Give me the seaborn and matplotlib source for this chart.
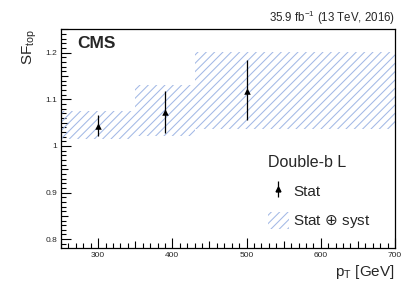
import matplotlib
matplotlib.use("Agg")
import matplotlib.pyplot as plt
import seaborn as sns
import numpy as np
import pandas as pd
from matplotlib.patches import Patch
from matplotlib.lines import Line2D
from matplotlib.ticker import MultipleLocator
from matplotlib.legend_handler import HandlerTuple

# data
bin_lo = [250, 350, 430]
bin_hi = [350, 430, 700]
band_lo = [1.014, 1.021, 1.036]
band_hi = [1.075, 1.131, 1.202]
pt = [300, 390, 500]
sf = [1.0435, 1.0735, 1.119]
stat_up = [1.066, 1.118, 1.184]
stat_dn = [1.021, 1.0285, 1.056]

HATCH_C = '#a3b9e6'

sns.set_theme(style="ticks")
plt.rcParams['font.family'] = ['Liberation Sans', 'DejaVu Sans']
plt.rcParams['hatch.linewidth'] = 0.75

fig = plt.figure(figsize=(4.07, 2.93), dpi=100)
ax = fig.add_axes([0.150, 0.1536, 0.8205, 0.7474])

df = pd.DataFrame({"pt": pt, "sf": sf})
widths = np.array(bin_hi) - np.array(bin_lo)
heights = np.array(band_hi) - np.array(band_lo)
ax.bar(bin_lo, heights, width=widths, bottom=band_lo, align='edge',
       facecolor='none', edgecolor=HATCH_C, hatch='////', linewidth=0)

yerr = [np.array(sf) - np.array(stat_dn), np.array(stat_up) - np.array(sf)]
eb = ax.errorbar(pt, sf, yerr=yerr, fmt='none', ecolor='black', elinewidth=0.9, capsize=0)
sns.scatterplot(data=df, x="pt", y="sf", marker='^', color='black', s=22,
                edgecolor='black', linewidth=0, ax=ax, zorder=5)

ax.set_xlim(250, 700)
ax.set_ylim(0.781, 1.251)
ax.xaxis.set_major_locator(MultipleLocator(100))
ax.xaxis.set_minor_locator(MultipleLocator(10))
ax.set_yticks([0.8, 0.9, 1.0, 1.1, 1.2])
ax.set_yticklabels(['0.8', '0.9', '1', '1.1', '1.2'])
ax.yaxis.set_minor_locator(MultipleLocator(0.01))
ax.tick_params(which='both', direction='in', top=False, right=False, labelsize=6, pad=3,
               color='black', width=0.8)
ax.tick_params(which='major', length=7)
ax.tick_params(which='minor', length=3.5)
for sp in ax.spines.values():
    sp.set_linewidth(0.9)
    sp.set_color('black')

# medium ticks (ROOT-style secondary divisions)
fig.canvas.draw()
for t, v in zip(ax.xaxis.get_minor_ticks(), ax.xaxis.get_minorticklocs()):
    if round(v) % 100 == 50:
        t.tick1line.set_markersize(5.2)
for t, v in zip(ax.yaxis.get_minor_ticks(), ax.yaxis.get_minorticklocs()):
    if round(v * 100) % 10 == 5:
        t.tick1line.set_markersize(5.2)

ax.set_xlabel(r'p$_{\mathregular{T}}$ [GeV]', fontsize=11, loc='right', labelpad=3)
ax.set_ylabel(r'SF$_{\mathregular{top}}$', fontsize=11, loc='top', labelpad=4)

ax.text(0.05, 0.935, 'CMS', transform=ax.transAxes, fontsize=12.5, fontweight='bold',
        ha='left', va='center')
ax.text(1.0, 1.011, r'35.9 fb$^{\mathregular{-1}}$ (13 TeV, 2016)', transform=ax.transAxes,
        fontsize=8.3, ha='right', va='bottom')

h_mark = Line2D([], [], color='black', marker='^', markersize=3.5, linestyle='none')
h_syst = Patch(facecolor='none', edgecolor=HATCH_C, hatch='////', linewidth=0)
leg = ax.legend([(eb, h_mark), h_syst], ['Stat', r'Stat $\oplus$ syst'], title='Double-b L',
                loc='lower left', bbox_to_anchor=(0.60, 0.052), frameon=False,
                fontsize=11, title_fontsize=11.5, handlelength=1.4, handletextpad=0.3,
                handleheight=1.4, labelspacing=0.78, borderaxespad=0,
                handler_map={tuple: HandlerTuple(ndivide=1)})
leg._legend_box.align = 'left'

fig.savefig('out.png', dpi=100)
